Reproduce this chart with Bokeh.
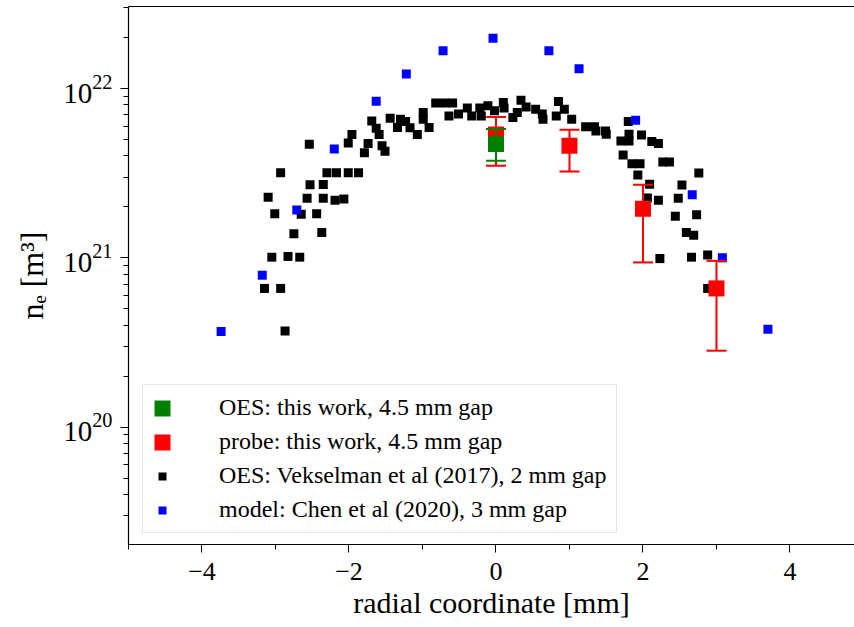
from bokeh.plotting import figure
from bokeh.models import (ColumnDataSource, Whisker, TeeHead, Legend, LegendItem,
                          SingleIntervalTicker, LogTicker, Range1d, LinearAxis,
                          FixedTicker)
from bokeh.embed import file_html
from bokeh.resources import INLINE

# ---------------- data ----------------
# OES: Vekselman et al (2017), 2 mm gap
vek_x = [-3.15, -2.93, -2.87, -3.05, -2.83, -2.67, -2.75, -2.37, -3.01, -2.65,
         -2.44, -3.10, -2.57, -2.35, -2.19, -2.07, -2.53, -2.35, -2.93, -2.30,
         -2.17, -2.01, -1.87, -2.54, -2.01, -1.96, -1.79, -1.74, -1.55, -1.51,
         -1.69, -1.63, -1.59, -1.44, -1.34, -1.30, -1.23, -1.17, -1.07, -0.99,
         -0.99, -0.91, -0.82, -0.70, -0.59, -0.64, -0.51, -0.39, -0.33, -0.22,
         -0.20, -0.11, -0.02,
         0.10, 0.11, 0.23, 0.29, 0.34, 0.41, 0.54, 0.64, 0.63, 0.85,
         0.82, 0.93, 1.03, 1.22, 1.34, 1.36, 1.49, 1.50, 1.80, 1.81,
         1.70, 1.81, 1.98, 2.12, 2.21, 1.73, 1.85, 1.96, 2.27, 2.36,
         1.93, 2.09, 2.76, 2.53, 2.06, 2.21, 2.48, 2.44, 2.73, 2.59,
         2.69, 2.23, 2.66, 2.88, 2.88]
vek_y = [6.6e20, 6.6e20, 3.7e20, 1.01e21, 1.02e21, 1.01e21, 1.39e21, 1.41e21, 1.82e21, 1.81e21,
         1.82e21, 2.28e21, 2.25e21, 2.25e21, 2.19e21, 2.23e21, 2.70e21, 2.71e21, 3.18e21, 3.18e21,
         3.18e21, 3.18e21, 3.18e21, 4.69e21, 4.77e21, 5.35e21, 4.18e21, 4.73e21, 4.60e21, 4.26e21,
         6.44e21, 5.83e21, 5.35e21, 6.68e21, 5.88e21, 6.59e21, 6.38e21, 5.86e21, 5.35e21, 7.21e21,
         6.59e21, 5.88e21, 8.20e21, 8.20e21, 8.20e21, 6.89e21, 7.06e21, 7.66e21, 6.89e21, 7.66e21,
         6.89e21, 7.90e21, 7.38e21,
         8.26e21, 7.66e21, 6.74e21, 7.21e21, 8.54e21, 7.79e21, 7.55e21, 6.59e21, 7.06e21, 8.38e21,
         6.89e21, 7.55e21, 6.59e21, 5.94e21, 5.94e21, 5.62e21, 5.62e21, 5.37e21, 6.38e21, 5.37e21,
         4.90e21, 4.90e21, 5.32e21, 4.86e21, 4.73e21, 4.05e21, 3.60e21, 3.60e21, 3.68e21, 3.68e21,
         3.09e21, 2.72e21, 3.17e21, 2.69e21, 2.26e21, 2.19e21, 2.25e21, 1.76e21, 1.80e21, 1.41e21,
         1.36e21, 9.9e20, 1.01e21, 1.04e21, 6.6e20]

# model: Chen et al (2020), 3 mm gap
chen_x = [-3.74, -3.18, -2.71, -2.20, -1.63, -1.22, -0.72, -0.04, 0.72, 1.13, 1.90, 2.67, 3.08, 3.70]
chen_y = [3.68e20, 7.9e20, 1.92e21, 4.4e21, 8.4e21, 1.22e22, 1.67e22, 1.98e22, 1.67e22, 1.31e22,
          6.5e21, 2.36e21, 1.0e21, 3.79e20]

# probe: this work, 4.5 mm gap
probe_x = [0.0, 1.0, 2.0, 3.0]
probe_y = [5.35e21, 4.6e21, 1.95e21, 6.6e20]
probe_hi = [6.8e21, 5.7e21, 2.7e21, 9.6e20]
probe_lo = [3.5e21, 3.24e21, 9.4e20, 2.83e20]

# OES: this work, 4.5 mm gap
oes_x = [0.0]
oes_y = [4.7e21]
oes_hi = [5.76e21]
oes_lo = [3.74e21]

x_ticks = [-4, -2, 0, 2, 4]
x_tick_labels = ["\u22124", "\u22122", "0", "2", "4"]
legend_labels = ["OES: this work, 4.5 mm gap",
                 "probe: this work, 4.5 mm gap",
                 "OES: Vekselman et al (2017), 2 mm gap",
                 "model: Chen et al (2020), 3 mm gap"]

# ---------------- figure ----------------
p = figure(width=854, height=627, x_range=Range1d(-5, 4.878),
           y_range=Range1d(2.03e19, 3.05e22), y_axis_type="log",
           output_backend="svg", toolbar_location=None,
           min_border_left=128, min_border_right=0, min_border_top=6,
           min_border_bottom=83)
p.xgrid.visible = False
p.ygrid.visible = False
p.outline_line_color = None
p.background_fill_color = "white"
p.border_fill_color = "white"

SERIF = "Liberation Serif"

xa = p.xaxis[0]
xa.ticker = SingleIntervalTicker(interval=2, num_minor_ticks=2)
xa.major_label_overrides = {t: l for t, l in zip(x_ticks, x_tick_labels)}
ya = p.yaxis[0]
ya.ticker = LogTicker(num_minor_ticks=10)

for ax in (xa, ya):
    ax.axis_line_color = "black"
    ax.axis_line_width = 1.2
    ax.major_tick_line_color = "black"
    ax.minor_tick_line_color = "black"
    ax.major_tick_out = 8
    ax.major_tick_in = 0
    ax.minor_tick_out = 5
    ax.minor_tick_in = 0
    ax.major_label_text_font = SERIF
    ax.major_label_text_color = "black"
    ax.axis_label_text_font = SERIF
    ax.axis_label_text_font_style = "normal"
    ax.axis_label_text_color = "black"
    ax.axis_label_text_font_size = "30px"

xa.major_label_text_font_size = "26px"
xa.major_label_standoff = 10
xa.axis_label = "radial coordinate [mm]"
xa.axis_label_standoff = 3

ya.major_label_text_font_size = "29px"
ya.major_label_standoff = 8
ya.axis_label = "n\u2091 [m\u00b3]"
ya.axis_label_standoff = 10
ya.axis_label_text_font_size = "32px"

# top spine (plain line, no ticks)
top = LinearAxis(ticker=FixedTicker(ticks=[]), axis_line_color="black",
                 axis_line_width=1.2, major_label_text_font_size="0px",
                 major_tick_out=0, major_tick_in=0, minor_tick_out=0,
                 minor_tick_in=0)
p.add_layout(top, "above")

# ---------------- glyphs ----------------
vek_src = ColumnDataSource(dict(x=vek_x, y=vek_y))
chen_src = ColumnDataSource(dict(x=chen_x, y=chen_y))
probe_src = ColumnDataSource(dict(x=probe_x, y=probe_y, hi=probe_hi, lo=probe_lo))
oes_src = ColumnDataSource(dict(x=oes_x, y=oes_y, hi=oes_hi, lo=oes_lo))

r_vek = p.scatter("x", "y", source=vek_src, marker="square", size=9,
                  fill_color="black", line_color=None)
r_chen = p.scatter("x", "y", source=chen_src, marker="square", size=9,
                   fill_color="#0000ff", line_color=None)


def errbars(src, color):
    w = Whisker(source=src, base="x", upper="hi", lower="lo", dimension="height",
                line_color=color, line_width=2, level="glyph",
                upper_head=TeeHead(size=20, line_color=color, line_width=2),
                lower_head=TeeHead(size=20, line_color=color, line_width=2))
    p.add_layout(w)


errbars(probe_src, "#ff0000")
r_probe = p.rect("x", "y", width=16, height=16, width_units="screen",
                 height_units="screen", source=probe_src,
                 fill_color="#ff0000", line_color=None)
errbars(oes_src, "#008000")
r_oes = p.rect("x", "y", width=16, height=16, width_units="screen",
               height_units="screen", source=oes_src,
               fill_color="#008000", line_color=None)

legend = Legend(items=[LegendItem(label=legend_labels[0], renderers=[r_oes]),
                       LegendItem(label=legend_labels[1], renderers=[r_probe]),
                       LegendItem(label=legend_labels[2], renderers=[r_vek]),
                       LegendItem(label=legend_labels[3], renderers=[r_chen])],
                location=(14, 11), padding=9, spacing=7,
                glyph_width=20, glyph_height=20, label_standoff=47,
                label_text_font=SERIF, label_text_font_size="24px",
                label_text_color="black",
                border_line_color="#cccccc", border_line_width=1,
                background_fill_color="white", background_fill_alpha=0.8)
p.add_layout(legend)

open("out.html", "w").write(file_html(p, INLINE))
